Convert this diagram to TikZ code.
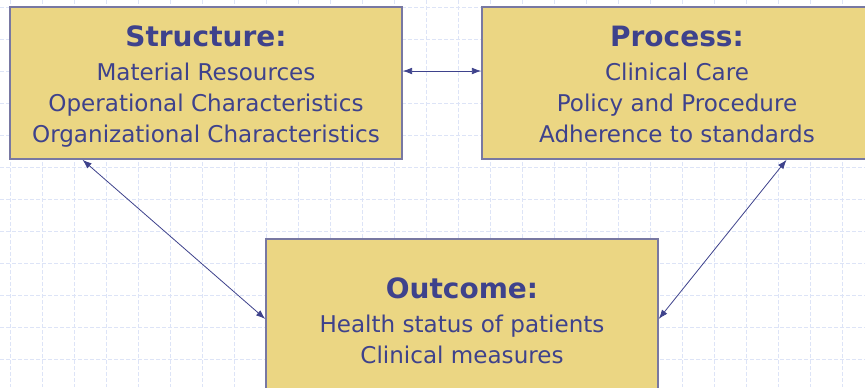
\documentclass[tikz,border=0pt]{standalone}
\usepackage{fontspec}
\setmainfont{DejaVu Sans}
\usetikzlibrary{arrows.meta,calc}

\definecolor{boxfill}{RGB}{235,214,131}
\definecolor{boxline}{RGB}{120,120,162}
\definecolor{inkblue}{RGB}{62,66,140}
\definecolor{gridblue}{RGB}{221,228,247}

\tikzset{every picture/.style={line width=0.75pt}}
\tikzset{
  panel/.style={draw=boxline, line width=1.1pt, fill=boxfill, text=inkblue,
    align=center, inner sep=0pt, font=\fontsize{17.3}{23.4}\selectfont},
  link/.style={draw=inkblue, line width=0.6pt, {Latex[length=7pt,width=5pt]}-{Latex[length=7pt,width=5pt]}}
}
\newcommand{\paneltitle}[1]{{\rule{0pt}{23pt}\bfseries\fontsize{21}{24}\selectfont #1}\\[2pt]}
\newcommand{\panelend}{\rule[-5.5pt]{0pt}{5.5pt}}

\begin{document}
\begin{tikzpicture}[x=0.75pt,y=0.75pt,yscale=-1,xscale=1]
\useasboundingbox (0,0) rectangle (865,387);
\fill [white] (0,0) rectangle (865,387);

%Background grid
\foreach \gx in {10,42,...,874}
  \draw [gridblue, dash pattern={on 3pt off 1.5pt}] (\gx,0) -- (\gx,387);
\foreach \gy in {7,39,...,391}
  \draw [gridblue, dash pattern={on 3pt off 1.5pt}] (0,\gy) -- (865,\gy);

% Structure box
\node (struct) [panel, minimum width=294pt, minimum height=114pt] at (206,83)
  {\paneltitle{Structure:}Material Resources\\Operational Characteristics\\Organizational Characteristics\panelend};
% Process box
\node (proc) [panel, minimum width=292.5pt, minimum height=114pt] at (677,83)
  {\paneltitle{Process:}Clinical Care\\Policy and Procedure\\Adherence to standards\panelend};
% Outcome box
\node (outc) [panel, minimum width=294pt, minimum height=120pt] at (462,319)
  {\paneltitle{Outcome:}Health status of patients\\Clinical measures\panelend};

%Connectors
\draw [link] ([yshift=-9pt]struct.east) -- ([yshift=-9pt]proc.west);
\draw [link] ($(struct.south west)!0.186!(struct.south east)$) -- (outc.west);
\draw [link] ($(proc.south west)!0.78!(proc.south east)$) -- (outc.east);

\end{tikzpicture}
\end{document}
